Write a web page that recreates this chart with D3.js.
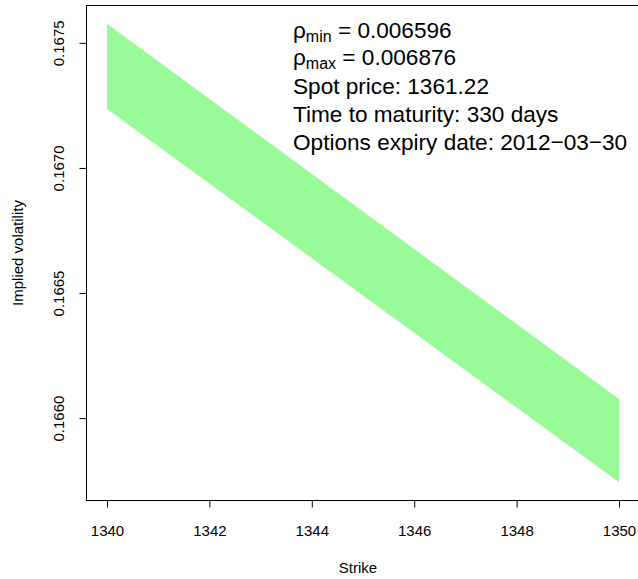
<!DOCTYPE html>
<html>
<head>
<meta charset="utf-8">
<script src="https://cdn.jsdelivr.net/npm/d3@7"></script>
<style>
  body { margin: 0; background: #fff; }
  text { font-family: "Liberation Sans", Arial, Helvetica, sans-serif; fill: #000; }
</style>
</head>
<body>
<div id="chart"></div>
<script>
var svgWidth = 638;
var svgHeight = 579;

// plot region in pixels (R style, axes extended by 4%)
var plot = { left: 86.5, right: 639.5, top: 5.5, bottom: 500.5 };

// data
var strikes = [1340, 1350];
var volUpper = [0.167576, 0.166076];
var volLower = [0.167236, 0.165744];

var xTicks = [1340, 1342, 1344, 1346, 1348, 1350];
var yTicks = [0.1660, 0.1665, 0.1670, 0.1675];

var legendLines = [
  { sym: 'ρ', sub: 'min', text: ' = 0.006596' },
  { sym: 'ρ', sub: 'max', text: ' = 0.006876' },
  { text: 'Spot price: 1361.22' },
  { text: 'Time to maturity: 330 days' },
  { text: 'Options expiry date: 2012\u221203\u221230' }
];

var rows = strikes.map(function(s, i) {
  return { strike: s, upper: volUpper[i], lower: volLower[i] };
});

function padded(lo, hi) {
  var d = (hi - lo) * 0.04;
  return [lo - d, hi + d];
}

var xLinearScale = d3.scaleLinear()
  .domain(padded(d3.min(strikes), d3.max(strikes)))
  .range([plot.left, plot.right]);

var yLinearScale = d3.scaleLinear()
  .domain(padded(d3.min(volLower), d3.max(volUpper)))
  .range([plot.bottom, plot.top]);

var svg = d3.select('#chart')
  .append('svg')
  .attr('width', svgWidth)
  .attr('height', svgHeight);

// band
var band = d3.area()
  .x(d => xLinearScale(d.strike))
  .y0(d => yLinearScale(d.lower))
  .y1(d => yLinearScale(d.upper));

svg.append('path')
  .datum(rows)
  .attr('d', band)
  .attr('fill', '#98FB98')
  .attr('stroke', 'none');

// frame
svg.append('rect')
  .attr('x', plot.left)
  .attr('y', plot.top)
  .attr('width', plot.right - plot.left)
  .attr('height', plot.bottom - plot.top)
  .attr('fill', 'none')
  .attr('stroke', '#000')
  .attr('stroke-width', 1);

// x axis
var xAxis = svg.append('g')
  .attr('transform', `translate(0, ${plot.bottom})`)
  .call(d3.axisBottom(xLinearScale).tickValues(xTicks).tickSize(7).tickSizeOuter(0).tickFormat(d3.format('d')));
xAxis.select('.domain').remove();
xAxis.selectAll('line').attr('stroke', '#000');
xAxis.selectAll('text')
  .attr('y', 35.5)
  .attr('dy', 0)
  .attr('font-size', '15px')
  .attr('font-family', '"Liberation Sans", Arial, sans-serif')
  .attr('fill', '#000');

// y axis
var yAxis = svg.append('g')
  .attr('transform', `translate(${plot.left}, 0)`)
  .call(d3.axisLeft(yLinearScale).tickValues(yTicks).tickSize(7).tickSizeOuter(0).tickFormat(d3.format('.4f')));
yAxis.select('.domain').remove();
yAxis.selectAll('line').attr('stroke', '#000');
yAxis.selectAll('text')
  .attr('x', 0)
  .attr('y', 0)
  .attr('dy', 0)
  .attr('text-anchor', 'middle')
  .attr('transform', 'translate(-22.5, 0) rotate(-90)')
  .attr('font-size', '15px')
  .attr('font-family', '"Liberation Sans", Arial, sans-serif')
  .attr('fill', '#000');

// axis titles
svg.append('text')
  .attr('x', (plot.left + plot.right) / 2 - 5)
  .attr('y', 573)
  .attr('text-anchor', 'middle')
  .attr('font-size', '15px')
  .text('Strike');

svg.append('text')
  .attr('transform', `translate(23, ${(plot.top + plot.bottom) / 2}) rotate(-90)`)
  .attr('text-anchor', 'middle')
  .attr('font-size', '15px')
  .text('Implied volatility');

// legend text
var legendY = [38, 65, 94, 122, 150];
var legend = svg.append('g').attr('transform', 'translate(293, 0)');
legendLines.forEach(function(l, i) {
  var t = legend.append('text')
    .attr('x', 0)
    .attr('y', legendY[i])
    .attr('font-size', '22.6px');
  if (l.sym) {
    t.append('tspan').text(l.sym);
    t.append('tspan').attr('font-size', '16px').attr('dy', 4).text(l.sub);
    t.append('tspan').attr('dy', -4).text(l.text);
  } else {
    t.text(l.text);
  }
});
</script>
</body>
</html>
